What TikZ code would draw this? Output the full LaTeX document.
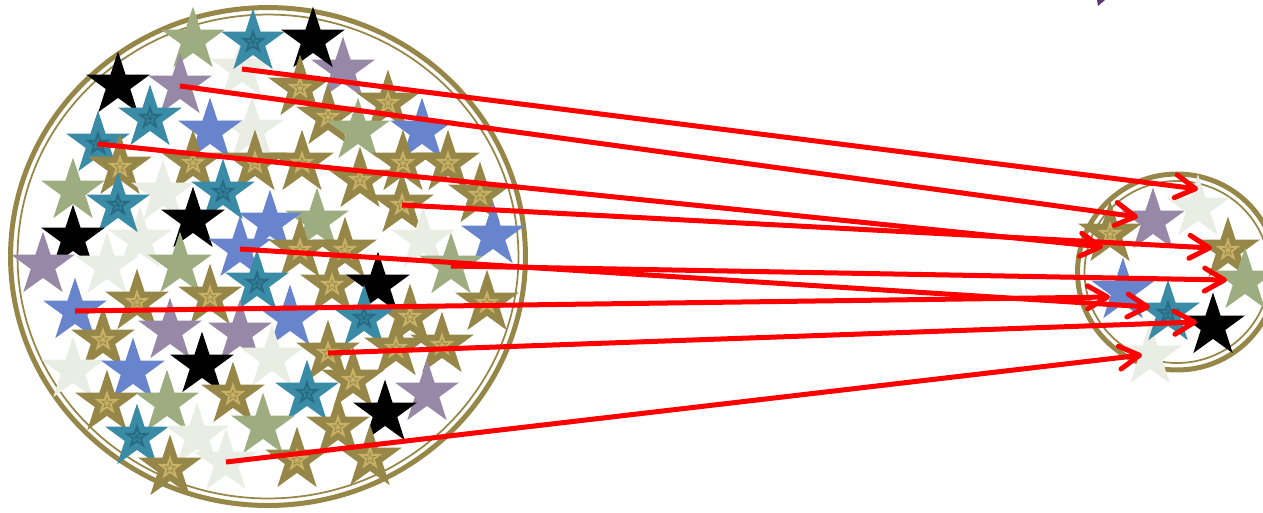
\documentclass[tikz,border=0pt]{standalone}
\usetikzlibrary{shapes.geometric, arrows.meta}
\definecolor{oliva}{RGB}{150,135,73}
\definecolor{oro}{RGB}{201,178,102}
\definecolor{ottanio}{RGB}{58,139,166}
\definecolor{ottscuro}{RGB}{40,107,133}
\definecolor{salvia}{RGB}{157,173,128}
\definecolor{chiaro}{RGB}{233,237,228}
\definecolor{lilla}{RGB}{150,136,166}
\definecolor{blu}{RGB}{104,132,205}
\definecolor{viola}{RGB}{90,55,115}
\tikzset{
  stella/.style  = {star, star points=5, star point ratio=2.6, minimum size=1.34cm, inner sep=0pt, draw=none},
  ol/.style      = {stella, fill=oliva,
                    label={[stella, minimum size=5.2mm, fill=oro]center:{}},
                    label={[stella, minimum size=2.2mm, draw=oliva, line width=.35pt]center:{}}},
  te/.style      = {stella, fill=ottanio,
                    label={[stella, minimum size=5.4mm, fill=ottscuro]center:{}},
                    label={[stella, minimum size=2.2mm, draw=ottanio, line width=.35pt]center:{}}},
  sg/.style      = {stella, fill=salvia},
  lt/.style      = {stella, fill=chiaro},
  pu/.style      = {stella, fill=lilla},
  bl/.style      = {stella, fill=blu},
  bk/.style      = {stella, fill=black},
  anello/.style  = {draw=oliva, line width=2.85pt},
  filo/.style    = {draw=oliva, line width=1pt},
  freccia/.style = {draw=red, line width=2.85pt, -{Straight Barb[length=4mm, width=4.6mm, round]}}
}

\begin{document}
\begin{tikzpicture}[x=0.02cm, y=-0.02cm]
  \useasboundingbox (0,0) rectangle (1263,512);

  % i due insiemi
  \draw[anello] (268,256.5) ellipse [x radius=5.15cm, y radius=4.98cm];
  \draw[filo]   (268,256.5) ellipse [x radius=5.01cm, y radius=4.84cm];
  \draw[anello] (1177,272) ellipse [x radius=1.99cm, y radius=1.96cm];
  \draw[filo]   (1177,272) ellipse [x radius=1.85cm, y radius=1.82cm];

  % stelle (insieme grande)
  \foreach \t/\x/\y/\nm in {
      lt/242/69/sa, pu/343/70/g1, sg/193/40/g2, te/253/42/g3, bk/313/40/g4,
      lt/252/130/g5, pu/180/86/sb, bk/118/85/g6, te/150/118/g7, te/98/144/sc,
      bl/210/131/g8, ol/300/88/g9, ol/388/103/g10, ol/328/117/g11, sg/358/131/g12,
      bl/422/131/g13, ol/120/167/g14, ol/193/163/g15, ol/255/163/g16, ol/302/163/g17,
      ol/403/163/g18, ol/448/163/g19, ol/360/180/g20, lt/163/193/g21, lt/140/240/g22,
      sg/73/191/g23, te/118/205/g24, te/223/192/g25, ol/480/195/g26, ol/402/205/sd,
      sg/317/221/g27, bl/270/223/g28, bk/73/238/g29, bk/193/220/g30, lt/423/240/g31,
      bl/493/236/g32, pu/43/265/g33, lt/107/266/g34, sg/180/265/g35, ol/300/250/g36,
      ol/345/250/g37, bl/240/249/se, sg/451/266/sf, te/257/283/g38, ol/332/285/g39,
      bk/378/285/g40, ol/137/302/g41, ol/210/297/g42, ol/487/303/g43, ol/410/317/g44,
      te/364/318/g45, bl/290/318/g46, bl/75/311/sg, pu/170/331/g47, pu/240/333/g48,
      ol/103/340/g49, lt/272/358/g50, ol/328/353/sh, ol/396/348/g51, ol/442/345/g52,
      bk/202/365/g53, lt/73/370/g54, bl/133/371/g55, ol/353/380/g56, pu/427/393/g57,
      ol/107/403/g58, sg/167/403/g59, ol/233/395/g60, te/307/393/g61, bk/385/413/g62,
      te/137/437/g63, lt/197/436/g64, sg/263/426/g65, ol/338/427/g66, ol/170/468/g67,
      lt/226/462/si, ol/297/460/g68, ol/370/458/g69}
    \node[\t] (\nm) at (\x,\y) {};

  % stelle (insieme piccolo)
  \foreach \t/\x/\y/\nm in {
      ol/1110/234/p1, pu/1153/221/p2, lt/1198/208/p3, ol/1228/250/p4, sg/1245/281/p5,
      bl/1123/291/p6, lt/1150/356/p7, te/1168/313/p8, bk/1213/326/p9}
    \node[\t] (\nm) at (\x,\y) {};

  % punte delle frecce
  \coordinate (ta) at (1198,189);
  \coordinate (tb) at (1138,217);
  \coordinate (tc) at (1103,247);
  \coordinate (td) at (1212,248);
  \coordinate (te) at (1227,280);
  \coordinate (tf) at (1150,307);
  \coordinate (tg) at (1110,297);
  \coordinate (th) at (1197,322);
  \coordinate (ti) at (1142,355);

  \draw[freccia] (sa.center) -- (ta);
  \draw[freccia] (sb.center) -- (tb);
  \draw[freccia] (sc.center) -- (tc);
  \draw[freccia] (sd.center) -- (td);
  \draw[freccia] (sf.center) -- (te);
  \draw[freccia] (se.center) -- (tf);
  \draw[freccia] (sg.center) -- (tg);
  \draw[freccia] (sh.center) -- (th);
  \draw[freccia] (si.center) -- (ti);

  % angolo in alto
  \fill[viola] (1097,0) -- (1105,0) -- (1098,6) -- cycle;

\end{tikzpicture}
\end{document}
